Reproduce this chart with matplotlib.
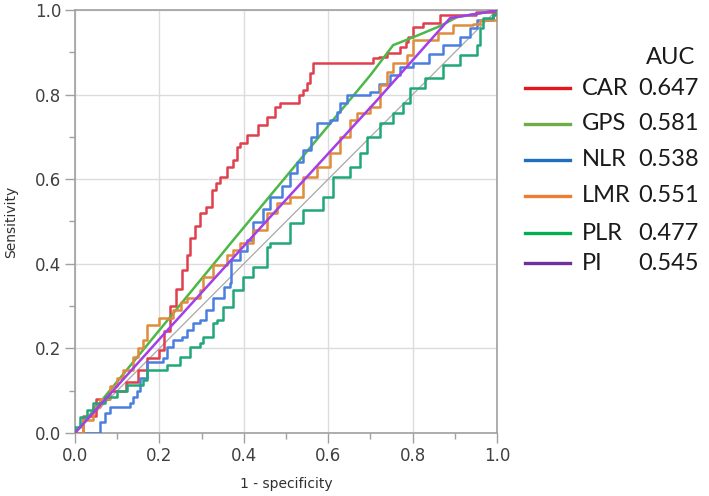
import matplotlib
matplotlib.use("Agg")
import matplotlib.pyplot as plt
from matplotlib.lines import Line2D
from matplotlib.ticker import MultipleLocator

# Curvas ROC (1 - especificidad, sensibilidad)
car_x = [0, 0.02, 0.05, 0.08, 0.12, 0.15, 0.17, 0.2, 0.21, 0.225, 0.24, 0.253, 0.265, 0.273,
         0.285, 0.296, 0.31, 0.324, 0.335, 0.344, 0.36, 0.375, 0.383, 0.39, 0.408, 0.434, 0.455,
         0.474, 0.486, 0.53, 0.54, 0.55, 0.558, 0.565, 0.707, 0.72, 0.74, 0.77, 0.785, 0.79,
         0.80, 0.825, 0.865, 0.95, 1.0]
car_y = [0, 0.04, 0.08, 0.10, 0.12, 0.15, 0.177, 0.196, 0.24, 0.30, 0.34, 0.385, 0.42, 0.46,
         0.49, 0.52, 0.535, 0.574, 0.59, 0.605, 0.63, 0.645, 0.676, 0.685, 0.705, 0.728, 0.747,
         0.77, 0.78, 0.80, 0.81, 0.827, 0.85, 0.875, 0.886, 0.89, 0.898, 0.913, 0.925, 0.936,
         0.96, 0.97, 0.988, 0.995, 1.0]

gps_x = [0, 0.375, 0.70, 0.754, 0.80, 0.865, 0.905, 0.976, 1.0]
gps_y = [0, 0.456, 0.846, 0.917, 0.935, 0.962, 0.983, 0.995, 1.0]

nlr_x = [0, 0.059, 0.071, 0.083, 0.13, 0.138, 0.146, 0.154, 0.17, 0.209, 0.218, 0.233, 0.253,
         0.265, 0.28, 0.296, 0.31, 0.328, 0.352, 0.367, 0.37, 0.39, 0.408, 0.422, 0.446, 0.462,
         0.49, 0.51, 0.525, 0.54, 0.56, 0.573, 0.604, 0.62, 0.628, 0.645, 0.70, 0.72, 0.746,
         0.77, 0.80, 0.84, 0.872, 0.912, 0.936, 0.953, 0.99, 1.0]
nlr_y = [0, 0.026, 0.047, 0.062, 0.07, 0.085, 0.10, 0.13, 0.168, 0.177, 0.204, 0.22, 0.227,
         0.243, 0.26, 0.267, 0.29, 0.32, 0.345, 0.354, 0.41, 0.43, 0.456, 0.50, 0.53, 0.558,
         0.585, 0.615, 0.64, 0.669, 0.70, 0.733, 0.74, 0.759, 0.78, 0.80, 0.806, 0.826, 0.846,
         0.865, 0.875, 0.895, 0.917, 0.936, 0.957, 0.976, 0.988, 1.0]

lmr_x = [0, 0.02, 0.043, 0.06, 0.083, 0.1, 0.114, 0.138, 0.15, 0.161, 0.17, 0.2, 0.233, 0.25,
         0.265, 0.296, 0.303, 0.327, 0.36, 0.374, 0.391, 0.422, 0.455, 0.479, 0.51, 0.54, 0.573,
         0.604, 0.628, 0.652, 0.668, 0.70, 0.723, 0.739, 0.754, 0.787, 0.80, 0.86, 0.896, 0.944,
         0.96, 0.995, 1.0]
lmr_y = [0, 0.03, 0.062, 0.08, 0.11, 0.13, 0.15, 0.18, 0.20, 0.22, 0.255, 0.272, 0.29, 0.31,
         0.32, 0.338, 0.369, 0.397, 0.42, 0.433, 0.449, 0.48, 0.52, 0.544, 0.558, 0.605, 0.629,
         0.662, 0.70, 0.74, 0.756, 0.77, 0.823, 0.853, 0.875, 0.894, 0.93, 0.945, 0.965, 0.968,
         0.976, 0.976, 1.0]

plr_x = [0, 0, 0.012, 0.028, 0.043, 0.07, 0.1, 0.123, 0.161, 0.17, 0.218, 0.242, 0.249, 0.272,
         0.296, 0.303, 0.327, 0.336, 0.351, 0.374, 0.398, 0.422, 0.455, 0.462, 0.51, 0.54, 0.588,
         0.611, 0.652, 0.675, 0.692, 0.723, 0.754, 0.777, 0.794, 0.83, 0.872, 0.912, 0.953, 0.96,
         0.967, 0.99, 1.0]
plr_y = [0, 0.015, 0.038, 0.054, 0.07, 0.085, 0.10, 0.113, 0.125, 0.149, 0.161, 0.161, 0.18,
         0.204, 0.213, 0.227, 0.26, 0.267, 0.298, 0.338, 0.369, 0.392, 0.44, 0.449, 0.496, 0.527,
         0.558, 0.605, 0.629, 0.662, 0.70, 0.733, 0.756, 0.78, 0.816, 0.84, 0.87, 0.894, 0.917,
         0.957, 0.981, 0.99, 1.0]

pi_x = [0, 0.2, 0.462, 0.716, 0.889, 0.976, 1.0]
pi_y = [0, 0.222, 0.51, 0.787, 0.981, 0.995, 1.0]

nombres = ["CAR", "GPS", "NLR", "LMR", "PLR", "PI"]
auc = ["0.647", "0.581", "0.538", "0.551", "0.477", "0.545"]

colores = ["#e0404e", "#4cb848", "#4a7fe0", "#e08c3a", "#20a878", "#a33ee8"]
colores_leyenda = ["#e8141c", "#70ad47", "#1f6fc0", "#ed7d31", "#00b050", "#7030a0"]

curvas = [(car_x, car_y, "steps-post"), (gps_x, gps_y, "default"), (nlr_x, nlr_y, "steps-post"),
          (lmr_x, lmr_y, "steps-post"), (plr_x, plr_y, "steps-post"), (pi_x, pi_y, "default")]

fig = plt.figure(figsize=(7.09, 4.96), dpi=100)
ax = fig.add_axes([75 / 709, 63 / 496, 422 / 709, 423 / 496])

# diagonal de referencia
ax.plot([0, 1], [0, 1], color="#a8a8a8", lw=0.9, zorder=2)

for (xs, ys, estilo), c in zip(curvas, colores):
    ax.plot(xs, ys, color=c, lw=1.8, drawstyle=estilo, zorder=3)

ax.set_xlim(0, 1)
ax.set_ylim(0, 1)
ax.xaxis.set_major_locator(MultipleLocator(0.2))
ax.yaxis.set_major_locator(MultipleLocator(0.2))
ax.xaxis.set_minor_locator(MultipleLocator(0.1))
ax.yaxis.set_minor_locator(MultipleLocator(0.1))
ax.xaxis.set_major_formatter(plt.FuncFormatter(lambda v, p: f"{v:.1f}"))
ax.yaxis.set_major_formatter(plt.FuncFormatter(lambda v, p: f"{v:.1f}"))
ax.grid(True, which="major", color="#dcdcdc", lw=1.0, zorder=0)
ax.tick_params(which="major", length=7, width=1, color="#a0a0a0", labelsize=12,
               labelcolor="#404040", pad=3)
ax.tick_params(which="minor", length=4, width=1, color="#a0a0a0")
for s in ax.spines.values():
    s.set_color("#a0a0a0")
    s.set_linewidth(1.2)

ax.set_xlabel("1 - specificity", fontsize=10, color="#303030", labelpad=9)
ax.set_ylabel("Sensitivity", fontsize=10, color="#303030", labelpad=12)

# leyenda con AUC
W, H = 709, 496
fig.text(671 / W, 1 - 57 / H, "AUC", family="Lato", fontsize=17, color="#1a1a1a",
         ha="center", va="center")
filas = [88, 124, 160, 196, 233, 263]
for nombre, valor, c, yy in zip(nombres, auc, colores_leyenda, filas):
    fy = 1 - yy / H
    fig.add_artist(Line2D([525 / W, 570 / W], [fy, fy], color=c, lw=2.4,
                          transform=fig.transFigure))
    fig.text(582 / W, fy, nombre, family="Lato", fontsize=17, color="#1a1a1a",
             ha="left", va="center")
    fig.text(638 / W, fy, valor, family="Lato", fontsize=17, color="#1a1a1a",
             ha="left", va="center")

fig.savefig("out.png", dpi=100)
